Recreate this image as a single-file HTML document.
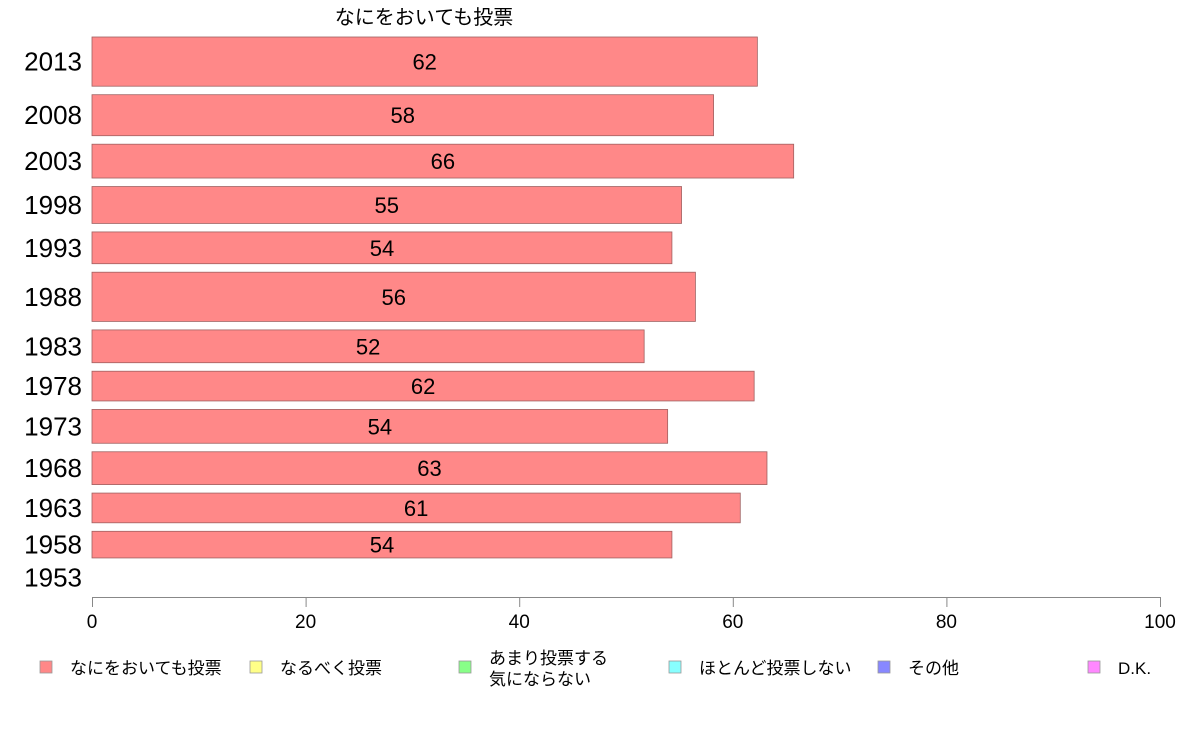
<!DOCTYPE html>
<html><head><meta charset="utf-8"><style>
body{margin:0;background:#fff;}
svg{display:block;font-family:"Liberation Sans","Noto Sans CJK JP",sans-serif;}
</style></head><body>
<svg id="chart" width="1188" height="736">
<text x="424" y="24" font-size="20" text-anchor="middle">なにをおいても投票</text>
<g id="bars"></g>
<g id="axis"></g>
<g id="legend"></g>
</svg>
<script>
const years = ["2013","2008","2003","1998","1993","1988","1983","1978","1973","1968","1963","1958","1953"];
const values = [62.3,58.2,65.7,55.2,54.3,56.5,51.7,62.0,53.9,63.2,60.7,54.3,null];
const valueLabels = ["62","58","66","55","54","56","52","62","54","63","61","54",""];
const weights = [48,40,33,36,31,48,32,29,33,32,29,26,22];
const ticks = [0,20,40,60,80,100];
const legendLabels = [["なにをおいても投票"],["なるべく投票"],["あまり投票する","気にならない"],["ほとんど投票しない"],["その他"],["D.K."]];
const legendColors = ["#ff8888","#ffff88","#88ff88","#88ffff","#8888ff","#ff88ff"];

const NS="http://www.w3.org/2000/svg";
const x0=92,x1=1160,yTop=37,yBottom=589;
const xs=v=>x0+(x1-x0)*v/100;
function mk(tag,attrs,parent){const e=document.createElementNS(NS,tag);for(const k in attrs)e.setAttribute(k,attrs[k]);parent.appendChild(e);return e;}
const barsG=document.getElementById('bars');
const totalW=weights.reduce((a,b)=>a+b,0);
const gap=8.5;
const unit=(yBottom-yTop-gap*(weights.length-1))/totalW;
let yy=yTop;
years.forEach((yr,i)=>{
  const h=weights[i]*unit, cy=yy+h/2;
  if(values[i]!==null){
    const r=mk('rect',{x:x0,y:yy,width:xs(values[i])-x0,height:h,fill:'#ff8888',stroke:'#a06060','stroke-width':0.8},barsG);
    
    
    const t=mk('text',{x:(x0+xs(values[i]))/2,y:cy+8,'font-size':22,'text-anchor':'middle'},barsG);
    t.textContent=valueLabels[i];
    
    
  }
  const l=mk('text',{x:82,y:cy+9,'font-size':26,'text-anchor':'end'},barsG);
  l.textContent=yr;
  
  
  yy+=h+gap;
});
const ax=document.getElementById('axis');
mk('line',{x1:x0,x2:x1,y1:597.5,y2:597.5,stroke:'#888','stroke-width':1},ax);
ticks.forEach(t=>{
  mk('line',{x1:xs(t)+0.5,x2:xs(t)+0.5,y1:597,y2:607,stroke:'#888','stroke-width':1},ax);
  const tx=mk('text',{x:xs(t),y:628,'font-size':19,'text-anchor':'middle'},ax);
  tx.textContent=t;
  
  
});
const lg=document.getElementById('legend');
const lx=[40,250,459,669,878,1088];
legendLabels.forEach((lines,i)=>{
  const g=mk('g',{},lg);
  
  
  mk('rect',{x:lx[i],y:661,width:12,height:12,fill:legendColors[i],stroke:'#999','stroke-width':0.8},g);
  lines.forEach((s,j)=>{
    const t=mk('text',{x:lx[i]+30,y:(lines.length===1?674:664+j*21),'font-size':17},g);
    t.textContent=s;
  });
});
</script>
</body></html>
